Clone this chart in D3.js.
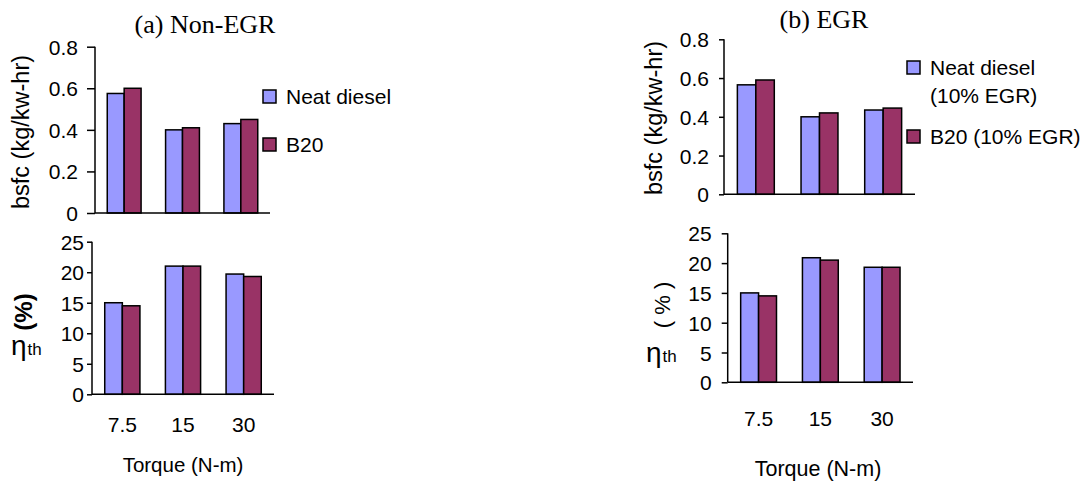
<!DOCTYPE html>
<html>
<head>
<meta charset="utf-8">
<script src="https://cdn.jsdelivr.net/npm/d3@7"></script>
<style>
  body { margin: 0; background: #fff; }
  text { font-family: "Liberation Sans", Arial, sans-serif; fill: #000; }
  text.serif { font-family: "Liberation Serif", "Times New Roman", serif; }
</style>
</head>
<body>
<script>
// data
var torque = ["7.5", "15", "30"];
var bsfcTicks = [0, 0.2, 0.4, 0.6, 0.8];
var effTicks = [0, 5, 10, 15, 20, 25];

var bsfcNonEgrDiesel = [0.575, 0.40, 0.43];
var bsfcNonEgrB20    = [0.60, 0.41, 0.45];
var effNonEgrDiesel  = [15, 21, 19.7];
var effNonEgrB20     = [14.5, 21, 19.3];

var bsfcEgrDiesel = [0.565, 0.40, 0.435];
var bsfcEgrB20    = [0.59, 0.42, 0.445];
var effEgrDiesel  = [15, 20.9, 19.3];
var effEgrB20     = [14.5, 20.5, 19.3];

var legendNonEgr = [["Neat diesel"], ["B20"]];
var legendEgr = [["Neat diesel", "(10% EGR)"], ["B20 (10% EGR)"]];

var colors = ["#9999ff", "#993366"];

var svg = d3.select("body").append("svg")
    .attr("width", 1088)
    .attr("height", 484);

// one bar panel: x0/x1 = axis extent, y0/y1 = pixel of 0 / top
function panel(p) {
  var x = d3.scaleBand()
      .domain(torque)
      .range([p.x0, p.x1])
      .paddingInner(0.42)
      .paddingOuter(0.21);
  var xs = d3.scaleBand()
      .domain([0, 1])
      .range([0, x.bandwidth()]);
  var y = d3.scaleLinear()
      .domain([0, p.ticks[p.ticks.length - 1]])
      .range([p.y0, p.y1]);

  var g = svg.append("g");

  [p.a, p.b].forEach(function(vals, s) {
    g.selectAll(".bar" + s)
        .data(vals)
      .enter().append("rect")
        .attr("x", function(d, i) { return x(torque[i]) + xs(s); })
        .attr("width", xs.bandwidth())
        .attr("y", function(d) { return y(d); })
        .attr("height", function(d) { return y(0) - y(d); })
        .attr("fill", colors[s])
        .attr("stroke", "#000")
        .attr("stroke-width", 1.5);
  });

  var ya = g.append("g")
      .attr("transform", "translate(" + p.x0 + ",0)")
      .call(d3.axisLeft(y).tickValues(p.ticks).tickSize(p.tickSize)
            .tickPadding(p.tickPad).tickFormat(function(d) { return String(d); }));
  ya.select(".domain").attr("stroke-width", 1.5).attr("d", "M0," + p.y1 + "V" + p.y0);
  ya.selectAll(".tick line").attr("stroke-width", 1.5);
  ya.selectAll(".tick text")
      .style("font-size", "21px")
      .attr("dy", "0.36em");

  // baseline
  g.append("line")
      .attr("x1", p.x0).attr("x2", p.x1)
      .attr("y1", p.y0).attr("y2", p.y0)
      .attr("stroke", "#000").attr("stroke-width", 1.5);

  if (p.catY) {
    g.selectAll(".cat")
        .data(torque)
      .enter().append("text")
        .attr("x", function(d) { return x(d) + x.bandwidth() / 2; })
        .attr("y", p.catY)
        .attr("text-anchor", "middle")
        .style("font-size", "21px")
        .text(function(d) { return d; });
  }
  return g;
}

function legend(items, lx, ly, gap) {
  var cy = ly;
  items.forEach(function(lines, s) {
    svg.append("rect")
        .attr("x", lx).attr("y", cy - 13)
        .attr("width", 13).attr("height", 13)
        .attr("fill", colors[s]).attr("stroke", "#000").attr("stroke-width", 1.5);
    lines.forEach(function(t, k) {
      svg.append("text")
          .attr("x", lx + 23).attr("y", cy + 1 + k * 28)
          .style("font-size", "21px")
          .text(t);
    });
    cy += gap[s];
  });
}

function vlabel(text, x, y, size, weight) {
  svg.append("text")
      .attr("transform", "translate(" + x + "," + y + ") rotate(-90)")
      .attr("text-anchor", "middle")
      .style("font-size", size + "px")
      .style("font-weight", weight || "normal")
      .text(text);
}

function eta(x, y) {
  var t = svg.append("text").attr("x", x).attr("y", y);
  t.append("tspan").style("font-size", "28px").text("\u03b7");
  t.append("tspan").style("font-size", "17px").attr("dx", 1).text("th");
}

function title(text, x, y) {
  svg.append("text")
      .attr("class", "serif")
      .attr("x", x).attr("y", y)
      .attr("text-anchor", "middle")
      .style("font-size", "26px")
      .text(text);
}

// (a) Non-EGR
title("(a) Non-EGR", 205, 33);
panel({x0: 95, x1: 270, y0: 213, y1: 46.7, ticks: bsfcTicks,
       a: bsfcNonEgrDiesel, b: bsfcNonEgrB20, tickSize: 8, tickPad: 9});
panel({x0: 92, x1: 274, y0: 394.3, y1: 241.7, ticks: effTicks,
       a: effNonEgrDiesel, b: effNonEgrB20, tickSize: 5, tickPad: 3, catY: 432});
legend(legendNonEgr, 263, 103, [48]);
vlabel("bsfc (kg/kw-hr)", 29, 132, 23.5);
vlabel("(%)", 32, 312, 24, "bold");
eta(11, 355);
svg.append("text").attr("x", 183).attr("y", 472).attr("text-anchor", "middle")
    .style("font-size", "20.5px").text("Torque (N-m)");

// (b) EGR
title("(b) EGR", 824, 28);
panel({x0: 724, x1: 915, y0: 194.3, y1: 39.3, ticks: bsfcTicks,
       a: bsfcEgrDiesel, b: bsfcEgrB20, tickSize: 5, tickPad: 10});
panel({x0: 727.7, x1: 913, y0: 382.3, y1: 233.3, ticks: effTicks,
       a: effEgrDiesel, b: effEgrB20, tickSize: 6, tickPad: 10, catY: 426});
legend(legendEgr, 907, 74, [69]);
vlabel("bsfc (kg/kw-hr)", 662, 118, 23.5);
vlabel("( % )", 670, 305, 22);
eta(646, 362);
svg.append("text").attr("x", 818).attr("y", 476).attr("text-anchor", "middle")
    .style("font-size", "21.5px").text("Torque (N-m)");
</script>
</body>
</html>
